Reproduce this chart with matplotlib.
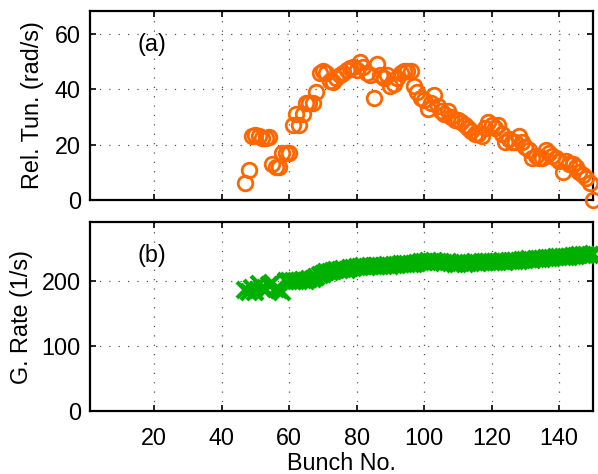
import numpy as np
import matplotlib
matplotlib.use("Agg")
import matplotlib.pyplot as plt

plt.rcParams['font.family'] = ['Liberation Sans', 'DejaVu Sans']

# Bunch numbers with measurements
bunch = list(range(47, 151))

# Relative tune (rad/s) per bunch
rel_tune = [
    6, 11, 23, 23.5, 23, 22.5, 22.5, 22.7, 13, 12,
    12, 17, 17, 17, 27, 31, 27, 31, 35, 35,
    35, 39, 46, 46.5, 46, 43, 42.5, 44, 45, 46,
    47, 47.5, 48, 47, 50, 48, 46, 45, 37, 49,
    45, 44, 45, 41, 42, 44, 46, 46.5, 46.5, 46.5,
    41, 39, 37, 36, 33, 35, 38, 34, 32, 31,
    32, 30, 29, 29, 28, 27, 26, 25, 24, 24,
    23, 26, 28, 27, 26, 27, 24, 21, 22, 21,
    21, 23, 21, 19, 18, 15, 16, 15, 15, 18,
    17, 16, 15, 14, 10, 14, 13, 13, 12, 10,
    9, 8, 6, 0,
]

# Growth rate (1/s) per bunch
growth_rate = [
    186, 184, 190, 184, 196, 190, 186, 194, 198, 188,
    186, 184, 200, 200, 201, 200, 201, 202, 201, 203,
    204, 206, 209, 212, 214, 215, 216, 217, 218, 219,
    218, 220, 221, 222, 222, 223, 222, 223, 224, 223,
    224, 224, 225, 224, 225, 225, 226, 226, 227, 226,
    227, 228, 229, 230, 231, 230, 231, 230, 229, 228,
    229, 228, 227, 227, 228, 227, 228, 228, 229, 228,
    229, 229, 230, 229, 230, 230, 231, 230, 231, 231,
    232, 232, 233, 233, 234, 233, 234, 235, 235, 236,
    236, 236, 237, 237, 238, 238, 238, 239, 239, 240,
    240, 240, 241, 242,
]

x_ticks = [20, 40, 60, 80, 100, 120, 140]
top_yticks = [0, 20, 40, 60]
bot_yticks = [0, 100, 200]

orange = '#ff6600'
green = '#00b000'
fs = 16.8

fig = plt.figure(figsize=(5.98, 4.74), dpi=100)
ax1 = fig.add_axes([0.1505, 0.578, 0.841, 0.399])
ax2 = fig.add_axes([0.1505, 0.1323, 0.841, 0.399])

ax1.plot(bunch, rel_tune, linestyle='none', marker='o', markersize=10.5,
         markerfacecolor='none', markeredgecolor=orange, markeredgewidth=2.0,
         clip_on=False, zorder=3)
ax2.plot(bunch, growth_rate, linestyle='none', marker='x', markersize=11,
         markeredgecolor=green, markeredgewidth=3.0, clip_on=False, zorder=3)

for ax, yt, ylim in ((ax1, top_yticks, (0, 68.3)), (ax2, bot_yticks, (0, 291))):
    ax.set_xlim(1, 150)
    ax.set_ylim(*ylim)
    ax.set_xticks(x_ticks)
    ax.set_yticks(yt)
    ax.grid(True, color='#555555', linestyle=(0, (1, 6.5)), linewidth=0.9)
    ax.set_axisbelow(True)
    ax.tick_params(direction='in', top=True, right=True, length=4, width=1.2,
                   labelsize=fs, pad=6.5)
    for sp in ax.spines.values():
        sp.set_linewidth(1.6)

ax1.tick_params(labelbottom=False)
ax2.tick_params(axis='x', pad=11)

ax1.set_ylabel('Rel. Tun. (rad/s)', fontsize=fs)
ax2.set_ylabel('G. Rate (1/s)', fontsize=fs)
ax1.yaxis.set_label_coords(-0.0915, 0.5)
ax2.yaxis.set_label_coords(-0.1125, 0.5)
ax2.set_xlabel('Bunch No.', fontsize=fs, labelpad=2)

ax1.text(0.123, 0.82, '(a)', transform=ax1.transAxes, fontsize=fs,
         ha='center', va='center')
ax2.text(0.123, 0.826, '(b)', transform=ax2.transAxes, fontsize=fs,
         ha='center', va='center')

fig.savefig('out.png', dpi=100)
